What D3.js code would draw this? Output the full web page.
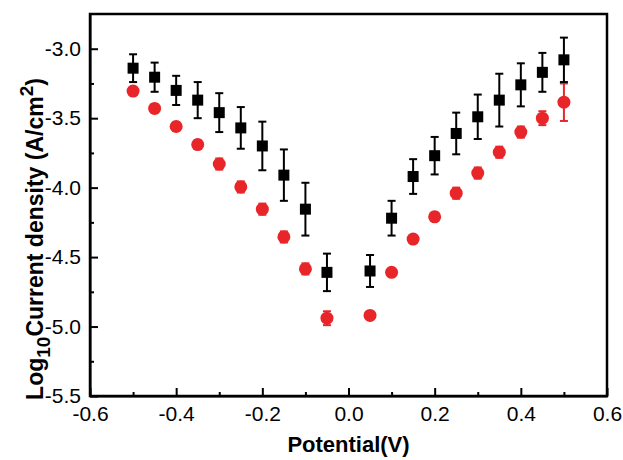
<!DOCTYPE html>
<html>
<head>
<meta charset="utf-8">
<script src="https://cdn.jsdelivr.net/npm/d3@7"></script>
<style>
  body { margin: 0; background: #fff; }
  text { font-family: "Liberation Sans", Arial, sans-serif; }
  .axis path, .axis line { stroke: #000; stroke-width: 2; }
  .axis text { font-size: 21px; fill: #000; }
</style>
</head>
<body>
<div id="chart"></div>
<script>
// potentials (V)
var potentials = [-0.5, -0.45, -0.4, -0.35, -0.3, -0.25, -0.2, -0.15, -0.1, -0.05,
                  0.05, 0.1, 0.15, 0.2, 0.25, 0.3, 0.35, 0.4, 0.45, 0.5];

// black squares
var blackVals = [-3.14, -3.205, -3.30, -3.37, -3.46, -3.57, -3.70, -3.91, -4.155, -4.61,
                 -4.60, -4.22, -3.92, -3.77, -3.61, -3.49, -3.37, -3.26, -3.17, -3.08];
var blackErr  = [0.10, 0.105, 0.105, 0.13, 0.14, 0.15, 0.175, 0.185, 0.19, 0.135,
                 0.115, 0.125, 0.125, 0.135, 0.15, 0.16, 0.19, 0.155, 0.14, 0.16];

// red circles
var redVals = [-3.305, -3.43, -3.56, -3.69, -3.83, -3.995, -4.155, -4.355, -4.585, -4.94,
               -4.92, -4.61, -4.37, -4.21, -4.04, -3.895, -3.745, -3.60, -3.50, -3.385];
var redErr  = [0.03, 0.03, 0.03, 0.03, 0.04, 0.04, 0.04, 0.04, 0.04, 0.05,
               0.01, 0.01, 0.02, 0.03, 0.04, 0.04, 0.04, 0.04, 0.05, 0.135];

var xTicks = [-0.6, -0.4, -0.2, 0.0, 0.2, 0.4, 0.6];
var xMinor = [-0.5, -0.3, -0.1, 0.1, 0.3, 0.5];
var yTicks = [-3.0, -3.5, -4.0, -4.5, -5.0, -5.5];
var yMinor = [-3.25, -3.75, -4.25, -4.75, -5.25];

var margin = {top: 14, right: 16, bottom: 64, left: 90};
var width = 623 - margin.left - margin.right;
var height = 460 - margin.top - margin.bottom;

var svg = d3.select("#chart").append("svg")
  .attr("width", 623)
  .attr("height", 460)
  .append("g")
  .attr("transform", "translate(" + margin.left + "," + margin.top + ")");

var xScale = d3.scaleLinear().domain([-0.6, 0.6]).range([0, width]);
var yScale = d3.scaleLinear().domain([-5.5, -2.75]).range([height, 0]);

var fmt = function(d) { return d3.format(".1f")(d).replace("\u2212", "-"); };

// frame
svg.append("rect")
  .attr("x", 0).attr("y", 0)
  .attr("width", width).attr("height", height)
  .attr("fill", "none")
  .attr("stroke", "#000")
  .attr("stroke-width", 2.5);

// minor ticks
svg.append("g")
  .attr("class", "axis")
  .attr("transform", "translate(0," + height + ")")
  .call(d3.axisBottom(xScale).tickValues(xMinor).tickSize(-4).tickFormat(""))
  .select(".domain").remove();
svg.append("g")
  .attr("class", "axis")
  .call(d3.axisLeft(yScale).tickValues(yMinor).tickSize(-4).tickFormat(""))
  .select(".domain").remove();

// major ticks
var xAxis = svg.append("g")
  .attr("class", "axis")
  .attr("transform", "translate(0," + height + ")")
  .call(d3.axisBottom(xScale).tickValues(xTicks).tickSizeInner(-8).tickSizeOuter(0).tickPadding(10).tickFormat(fmt));
xAxis.select(".domain").attr("stroke-width", 2.5);

var yAxis = svg.append("g")
  .attr("class", "axis")
  .call(d3.axisLeft(yScale).tickValues(yTicks).tickSizeInner(-8).tickSizeOuter(0).tickPadding(9).tickFormat(fmt));
yAxis.select(".domain").attr("stroke-width", 2.5);

// axis titles
svg.append("text")
  .attr("x", width / 2)
  .attr("y", height + 56)
  .attr("text-anchor", "middle")
  .style("font-size", "22px")
  .style("font-weight", "bold")
  .text("Potential(V)");

var yl = svg.append("text")
  .attr("transform", "translate(" + (-47) + "," + (height / 2 + 34) + ") rotate(-90)")
  .attr("text-anchor", "middle")
  .style("font-size", "23px")
  .style("font-weight", "bold");
yl.append("tspan").text("Log");
yl.append("tspan").attr("dy", 7).style("font-size", "19px").text("10");
yl.append("tspan").attr("dy", -7).text("Current density (A/cm");
yl.append("tspan").attr("dy", -10).style("font-size", "19px").text("2");
yl.append("tspan").attr("dy", 10).text(")");

var blackData = potentials.map(function(p, i) { return {x: p, y: blackVals[i], e: blackErr[i]}; });
var redData = potentials.map(function(p, i) { return {x: p, y: redVals[i], e: redErr[i]}; });

function drawErr(data, color, cls) {
  var g = svg.append("g").attr("class", cls);
  var cap = 4;
  data.forEach(function(d) {
    var cx = xScale(d.x);
    var y0 = yScale(d.y - d.e), y1 = yScale(d.y + d.e);
    g.append("line").attr("x1", cx).attr("x2", cx).attr("y1", y0).attr("y2", y1)
      .attr("stroke", color).attr("stroke-width", 2);
    g.append("line").attr("x1", cx - cap).attr("x2", cx + cap).attr("y1", y0).attr("y2", y0)
      .attr("stroke", color).attr("stroke-width", 2);
    g.append("line").attr("x1", cx - cap).attr("x2", cx + cap).attr("y1", y1).attr("y2", y1)
      .attr("stroke", color).attr("stroke-width", 2);
  });
}

drawErr(redData, "#e8262a", "red-err");
drawErr(blackData, "#000", "black-err");

svg.selectAll(".red-pt")
  .data(redData)
  .enter()
  .append("circle")
  .attr("class", "red-pt")
  .attr("cx", function(d) { return xScale(d.x); })
  .attr("cy", function(d) { return yScale(d.y); })
  .attr("r", 6.5)
  .attr("fill", "#e8262a");

svg.selectAll(".black-pt")
  .data(blackData)
  .enter()
  .append("rect")
  .attr("class", "black-pt")
  .attr("x", function(d) { return xScale(d.x) - 5.5; })
  .attr("y", function(d) { return yScale(d.y) - 5.5; })
  .attr("width", 11)
  .attr("height", 11)
  .attr("fill", "#000");
</script>
</body>
</html>
